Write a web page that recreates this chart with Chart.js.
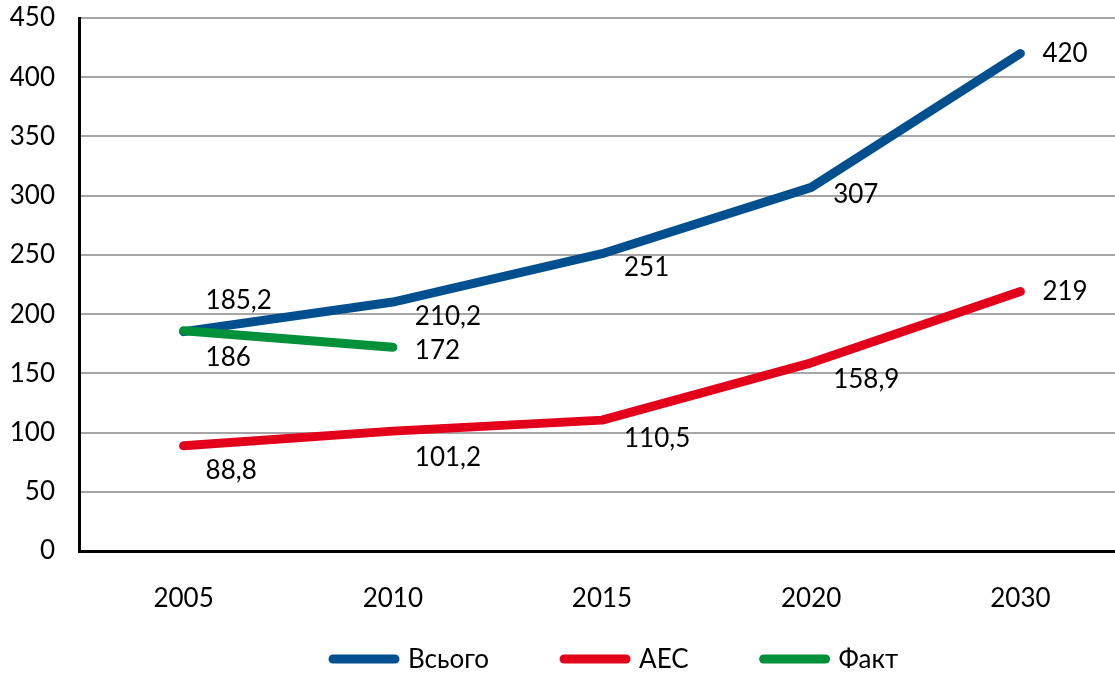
<!DOCTYPE html>
<html>
<head>
<meta charset="utf-8">
<script src="https://cdn.jsdelivr.net/npm/chart.js@4.4.0/dist/chart.umd.min.js"></script>
<style>
  html, body { margin: 0; padding: 0; overflow: hidden; background: #fff; }
  #wrap { position: relative; width: 1125px; height: 673px; }
</style>
</head>
<body>
<div id="wrap"><canvas id="c" width="1125" height="673"></canvas></div>
<script>
// ---- data ----
const categories = ['2005', '2010', '2015', '2020', '2030'];
const totalValues = [185.2, 210.2, 251, 307, 420];      // Всього
const npsValues   = [88.8, 101.2, 110.5, 158.9, 219];    // АЕС
const factValues  = [186, 172, null, null, null];        // Факт
const seriesNames = ['Всього', 'АЕС', 'Факт'];
const yTicks = [0, 50, 100, 150, 200, 250, 300, 350, 400, 450];

// ---- styles / label placement (not data) ----
const colors = ['#00508F', '#E3001B', '#00913A'];
const labelDy = [
  [-31, 15, 14, 7, 0],
  [25, 26, 18, 17, 0],
  [27, 3, 0, 0, 0]
];
const FONT = 'Lato, "Open Sans", sans-serif';
const FS = 26;

const dataLabels = {
  id: 'dataLabels',
  afterDatasetsDraw(chart) {
    const ctx = chart.ctx;
    ctx.save();
    ctx.font = FS + 'px ' + FONT;
    ctx.fillStyle = '#000';
    ctx.textAlign = 'left';
    ctx.textBaseline = 'middle';
    chart.data.datasets.forEach((ds, i) => {
      const meta = chart.getDatasetMeta(i);
      meta.data.forEach((pt, j) => {
        const v = ds.data[j];
        if (v === null || v === undefined) return;
        const txt = String(v).replace('.', ',');
        ctx.fillText(txt, pt.x + 22, pt.y + labelDy[i][j]);
      });
    });
    ctx.restore();
  }
};

const customLegend = {
  id: 'customLegend',
  afterDraw(chart) {
    const ctx = chart.ctx;
    ctx.save();
    ctx.font = FS + 'px ' + FONT;
    ctx.textBaseline = 'middle';
    ctx.textAlign = 'left';
    let x = 333;
    const y = 659;
    chart.data.datasets.forEach((ds) => {
      ctx.strokeStyle = ds.borderColor;
      ctx.lineWidth = 9;
      ctx.lineCap = 'round';
      ctx.beginPath();
      ctx.moveTo(x, y);
      ctx.lineTo(x + 62, y);
      ctx.stroke();
      ctx.fillStyle = '#000';
      ctx.fillText(ds.label, x + 75, y + 1);
      const w = ctx.measureText(ds.label).width;
      x = x + 75 + w + 75;
    });
    ctx.restore();
  }
};

const mk = (label, data, color, order) => ({
  label, data, order,
  borderColor: color, backgroundColor: color,
  borderWidth: 9, pointRadius: 0, pointHoverRadius: 0,
  tension: 0, borderCapStyle: 'round', borderJoinStyle: 'round',
  spanGaps: false
});

new Chart(document.getElementById('c'), {
  type: 'line',
  data: {
    labels: categories,
    datasets: [
      mk(seriesNames[0], totalValues, colors[0], 2),
      mk(seriesNames[1], npsValues, colors[1], 1),
      mk(seriesNames[2], factValues, colors[2], 0)
    ]
  },
  options: {
    responsive: false,
    animation: false,
    devicePixelRatio: 1,
    layout: { padding: { top: 0, right: 0, left: 0, bottom: 62 } },
    plugins: { legend: { display: false }, tooltip: { enabled: false } },
    scales: {
      x: {
        offset: true,
        grid: { display: false, drawTicks: false },
        border: { display: true, color: '#000', width: 3 },
        ticks: { color: '#000', font: { family: FONT, size: FS }, padding: 32, maxRotation: 0 },
        afterFit(s) { s.height = 60; }
      },
      y: {
        min: 0, max: 450,
        afterBuildTicks(s) { s.ticks = yTicks.map(v => ({ value: v })); },
        grid: { color: '#A6A6A6', lineWidth: 2, drawTicks: false },
        border: { display: true, color: '#000', width: 3 },
        ticks: { color: '#000', font: { family: FONT, size: FS }, padding: 24 },
        afterFit(s) { s.width = 79; s.paddingTop = 18; }
      }
    }
  },
  plugins: [dataLabels, customLegend]
});
</script>
</body>
</html>
